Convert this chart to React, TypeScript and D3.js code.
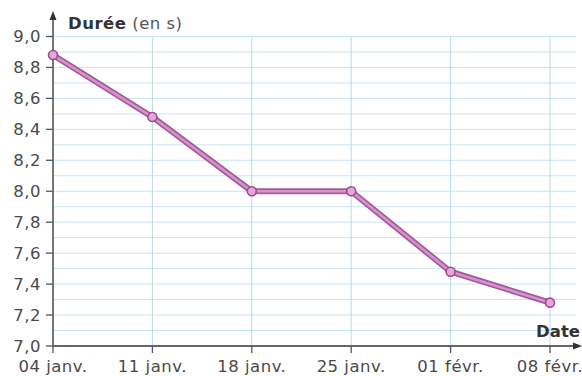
import React from "react";
import * as d3 from "d3";

const dates = ["04 janv.", "11 janv.", "18 janv.", "25 janv.", "01 févr.", "08 févr."];
const durations = [8.88, 8.48, 8.0, 8.0, 7.48, 7.28];
const yTicks = [7.0, 7.2, 7.4, 7.6, 7.8, 8.0, 8.2, 8.4, 8.6, 8.8, 9.0];
const yGrid = d3.range(70, 91).map((v) => v / 10);

const W = 582;
const H = 376;
const FONT = "'DejaVu Sans', sans-serif";

export default function App() {
  const x = d3.scalePoint<string>().domain(dates).range([53, 550]);
  const y = d3.scaleLinear().domain([7, 9]).range([346, 36.5]);
  const line = d3
    .line<number>()
    .x((_, i) => x(dates[i]) as number)
    .y((d) => y(d));
  const path = line(durations) || "";
  const fmt = (v: number) => v.toFixed(1).replace(".", ",");
  const x0 = 53;
  const y0 = y(7);

  return (
    <div style={{ position: "absolute", left: 0, top: 0 }}>
      <svg width={W} height={H} style={{ display: "block" }}>
        <rect x={0} y={0} width={W} height={H} fill="#ffffff" />
        {/* horizontal grid */}
        {yGrid.map((v) => (
          <line key={"h" + v} x1={x0} x2={576} y1={y(v)} y2={y(v)} stroke="#c9e5f0" strokeWidth={1} />
        ))}
        {/* vertical grid */}
        {dates.slice(1).map((d) => (
          <line key={"v" + d} x1={x(d)} x2={x(d)} y1={y(9)} y2={y0} stroke="#b5dcea" strokeWidth={1} />
        ))}
        {/* axes */}
        <line x1={x0} x2={x0} y1={y0 + 0.5} y2={16} stroke="#555" strokeWidth={1.6} />
        <path d={`M${x0},11 L${x0 - 3.5},20 L${x0 + 3.5},20 Z`} fill="#333" />
        <line x1={x0} x2={576} y1={y0} y2={y0} stroke="#666" strokeWidth={2} />
        <path d={`M582,${y0} L573,${y0 - 3.5} L573,${y0 + 3.5} Z`} fill="#333" />
        {/* y ticks */}
        {yTicks.map((v) => (
          <g key={"yt" + v}>
            <line x1={x0 - 7} x2={x0} y1={y(v)} y2={y(v)} stroke="#555" strokeWidth={1.3} />
            <text
              x={41}
              y={y(v)}
              dy="0.36em"
              textAnchor="end"
              fontFamily={FONT}
              fontSize={16.5}
              letterSpacing={0.5}
              fill="#4a4a4a"
            >
              {fmt(v)}
            </text>
          </g>
        ))}
        {/* x ticks */}
        {dates.map((d) => (
          <g key={"xt" + d}>
            <line x1={x(d)} x2={x(d)} y1={y0} y2={y0 + 7} stroke="#555" strokeWidth={1.3} />
            <text
              x={x(d) as number}
              y={372}
              textAnchor="middle"
              fontFamily={FONT}
              fontSize={16.5}
              letterSpacing={0.5}
              fill="#4a4a4a"
            >
              {d}
            </text>
          </g>
        ))}
        {/* axis titles */}
        <text x={68} y={29} fontFamily={FONT} fontSize={16.5} letterSpacing={0.5} fill="#333">
          <tspan fontWeight="bold">Durée</tspan>
          <tspan fill="#555"> (en s)</tspan>
        </text>
        <text
          x={580}
          y={337}
          textAnchor="end"
          fontFamily={FONT}
          fontSize={16.5}
          fontWeight="bold"
          fill="#333"
        >
          Date
        </text>
        {/* data line */}
        <path d={path} fill="none" stroke="#a25c9c" strokeWidth={6} strokeLinejoin="round" strokeLinecap="round" />
        <path d={path} fill="none" stroke="#d893cc" strokeWidth={2.5} strokeLinejoin="round" strokeLinecap="round" />
        {durations.map((v, i) => (
          <circle
            key={"p" + i}
            cx={x(dates[i]) as number}
            cy={y(v)}
            r={4.5}
            fill="#e6a6da"
            stroke="#9a4c92"
            strokeWidth={1.6}
          />
        ))}
      </svg>
    </div>
  );
}
